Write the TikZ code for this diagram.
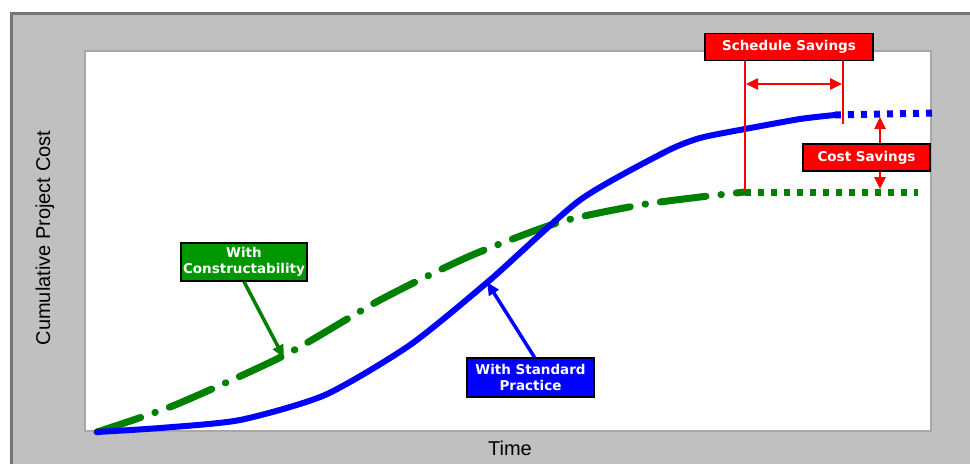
\documentclass[tikz,border=0pt]{standalone}
\usepackage{fontspec}
\setmainfont{Liberation Sans}
\newfontfamily\tagfont{DejaVu Sans}
\usetikzlibrary{arrows.meta}

\definecolor{frameGray}{HTML}{C0C0C0}
\definecolor{frameDark}{HTML}{767676}
\definecolor{plotEdge}{HTML}{A8A8A8}
\definecolor{costRed}{RGB}{255,0,0}
\definecolor{stdBlue}{RGB}{0,0,255}
\definecolor{conGreen}{RGB}{0,128,0}
\definecolor{conBox}{RGB}{0,150,0}

\tikzset{
  tag/.style={draw=black, line width=1.4pt, text=white, inner sep=0pt, align=center,
    font=\tagfont\bfseries\fontsize{13.5}{16.5}\selectfont},
  stdcurve/.style={draw=stdBlue, line width=6pt, line cap=round, line join=round},
  concurve/.style={draw=conGreen, line width=7pt, line cap=round, line join=round,
    dash pattern=on 46pt off 15pt on 0.5pt off 15pt},
  tail/.style={line width=7pt, dash pattern=on 6pt off 7pt},
  redline/.style={draw=costRed, line width=2.5pt},
  redarrow/.style={redline, -{Triangle[length=12pt,width=11pt]}},
  pointer/.style={line width=3.5pt, -{Triangle[length=13pt,width=11pt]}},
  axislabel/.style={font=\fontsize{20}{24}\selectfont, text=black}
}

\begin{document}
\begin{tikzpicture}[x=1pt, y=-1pt]
  \useasboundingbox (0,0) rectangle (970,464);

  % outer panel and plotting area
  \fill[frameGray] (10,12) rectangle (970,464);
  \draw[frameDark, line width=3pt] (11.5,464) -- (11.5,13.5) -- (970,13.5);
  \fill[white, draw=plotEdge, line width=1.5pt] (85,51) rectangle (931,431);

  % curve anchor points
  \coordinate (origin) at (97,432);
  \coordinate (stdEnd) at (835,115);
  \coordinate (conEnd) at (745,192);
  \coordinate (stdTail) at (932,113);
  \coordinate (conTail) at (918,192);

  % dotted continuations
  \draw[tail, stdBlue] (stdEnd) -- (stdTail);
  \draw[tail, conGreen] (conEnd) -- (conTail);

  % with constructability (dash-dot)
  \draw[concurve] plot[smooth, tension=0.4] coordinates {
    (97,432) (175,405) (285,355) (380,300) (470,256) (560,222) (640,205) (700,197) (745,192)};
  % with standard practice (solid)
  \draw[stdcurve] plot[smooth, tension=0.4] coordinates {
    (97,432) (160,428) (240,420) (325,395) (410,345) (490,280) (580,200)
    (665,152) (700,138) (745,129) (800,119) (835,115)};

  % labels
  \node[tag, fill=costRed, minimum width=168pt, minimum height=27pt] (sched) at (789,47) {Schedule Savings};
  \node[tag, fill=costRed, minimum width=127pt, minimum height=27pt] (cost) at (866.5,157.5) {Cost Savings};
  \node[tag, fill=conBox, minimum width=126pt, minimum height=38pt] (cons) at (244,262) {With\\Constructability};
  \node[tag, fill=stdBlue, minimum width=127pt, minimum height=39pt] (std) at (530.5,377.5) {With Standard\\Practice};

  % schedule savings markers
  \coordinate (schedL) at (745,192);
  \coordinate (schedR) at (843,124);
  \draw[redline] (sched.south -| schedL) -- (schedL);
  \draw[redline] (sched.south -| schedR) -- (schedR);
  \coordinate (spanL) at (746,84);
  \coordinate (spanR) at (842,84);
  \draw[redline, {Triangle[length=12pt,width=11pt]}-{Triangle[length=12pt,width=11pt]}] (spanL) -- (spanR);

  % cost savings markers
  \coordinate (costTop) at (880,117);
  \coordinate (costBot) at (880,189);
  \draw[redarrow] (cost.north -| costTop) -- (costTop);
  \draw[redarrow] (cost.south -| costBot) -- (costBot);

  % callout pointers
  \coordinate (conHit) at (284,358);
  \coordinate (stdHit) at (487,282);
  \draw[pointer, conGreen] (cons.south) -- (conHit);
  \draw[pointer, stdBlue] ([xshift=4pt]std.north) -- (stdHit);

  % axis titles
  \node[axislabel] (timeLabel) at (510,448) {Time};
  \node[axislabel, rotate=90] (costLabel) at (45,238) {Cumulative Project Cost};
\end{tikzpicture}
\end{document}
